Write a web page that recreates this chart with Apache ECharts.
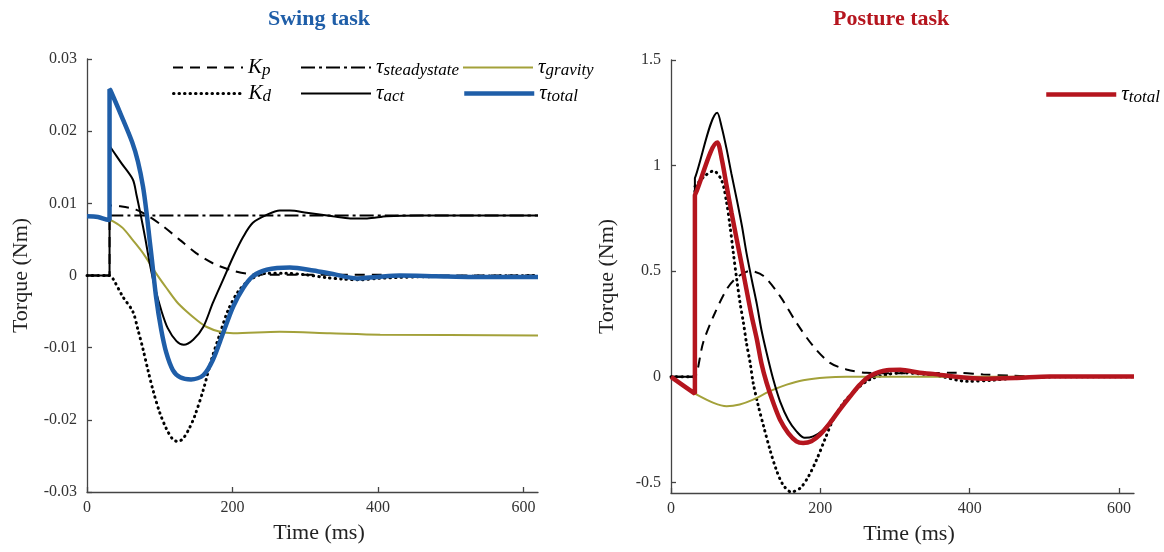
<!DOCTYPE html>
<html><head><meta charset="utf-8">
<script src="https://cdn.jsdelivr.net/npm/echarts@6/dist/echarts.min.js"></script>
<style>html,body{margin:0;padding:0;background:#fff}#c{width:1164px;height:552px}</style>
</head><body><div id="c"></div>
<script>
// ---------- Swing task (left) ----------
const swingKpT = [0, 30, 31, 31, 32, 45, 68, 85, 105, 128, 150, 173, 196, 224, 265, 400, 450, 620];
const swingKpV = [0, 0, 0, 0.0097, 0.0097, 0.0096, 0.0091, 0.0082, 0.0068, 0.0049, 0.0031, 0.0017, 0.0008, 0.0002, 0.0001, 0.0001, 0, 0];

const swingKdT = [0, 30, 31, 36, 49, 63, 70, 77, 84, 91, 100, 109, 118, 125, 132, 140, 148, 160, 171, 183, 194, 208, 224, 247, 274, 300, 330, 352, 375, 400, 450, 520, 620];
const swingKdV = [0, 0, 0, -0.0005, -0.0029, -0.0050, -0.0075, -0.0102, -0.0132, -0.0160, -0.0190, -0.0212, -0.0227, -0.0230, -0.0226, -0.0213, -0.0195, -0.0158, -0.0117, -0.0080, -0.0048, -0.0022, -0.0006, 0.0003, 0.0003, 0.0001, -0.0003, -0.0005, -0.0006, -0.0004, -0.0002, -0.0001, 0];

const swingSteadyT = [31, 620];
const swingSteadyV = [0.0083, 0.0083];

const swingActT = [0, 30, 31, 31, 32, 47, 63, 68, 74, 80, 86, 93, 102, 111, 123, 133, 146, 160, 173, 187, 201, 215, 228, 247, 265, 279, 302, 338, 362, 385, 412, 460, 620];
const swingActV = [0, 0, 0, 0.0179, 0.0178, 0.0156, 0.0133, 0.0112, 0.0083, 0.0052, 0.0018, -0.0015, -0.0048, -0.0073, -0.0091, -0.0096, -0.0089, -0.0071, -0.0038, -0.0006, 0.0026, 0.0054, 0.0073, 0.0084, 0.0090, 0.0090, 0.0087, 0.0082, 0.0079, 0.0079, 0.0082, 0.0083, 0.0083];

const swingGravT = [31, 36, 49, 63, 77, 95, 109, 123, 137, 150, 164, 183, 201, 265, 334, 403, 620];
const swingGravV = [0.0077, 0.0075, 0.0066, 0.0049, 0.0031, 0.0003, -0.0017, -0.0036, -0.0050, -0.0061, -0.0071, -0.0078, -0.0080, -0.0078, -0.0080, -0.0082, -0.0083];

const swingTotalT = [0, 15, 30, 31, 31, 32, 47, 62, 70, 77, 82, 86, 89, 95, 102, 109, 118, 128, 143, 160, 173, 187, 201, 215, 228, 247, 279, 311, 338, 371, 398, 430, 480, 530, 575, 620];
const swingTotalV = [0.0082, 0.0081, 0.0077, 0.0077, 0.0258, 0.0257, 0.0222, 0.0185, 0.0158, 0.0123, 0.0086, 0.0050, 0.0024, -0.0030, -0.0075, -0.0107, -0.0131, -0.0141, -0.0144, -0.0138, -0.0117, -0.0080, -0.0043, -0.0017, -0.0001, 0.0008, 0.0011, 0.0007, 0.0002, -0.0004, -0.0002, 0.0000, -0.0001, -0.0002, -0.0002, -0.0002];

// ---------- Posture task (right) ----------
const postKpT = [0, 31, 32, 43, 57, 74.5, 88, 106, 124, 146, 168, 190.5, 213, 235, 262, 298, 382, 418, 458, 507, 620];
const postKpV = [0, 0, 0, 0.161, 0.288, 0.414, 0.470, 0.501, 0.477, 0.382, 0.256, 0.145, 0.066, 0.035, 0.019, 0.017, 0.019, 0.011, 0.005, 0, 0];

const postKdT = [0, 31, 32, 32, 33, 45, 57, 68, 74.5, 79, 83.4, 88, 92.4, 97, 101, 106, 110, 117, 124, 132.5, 141, 150, 161, 173, 184, 195, 206, 217, 231, 248, 266, 289, 311, 340, 360, 396, 431, 463, 520, 620];
const postKdV = [0, 0, 0, 0.90, 0.905, 0.95, 0.975, 0.928, 0.825, 0.714, 0.588, 0.462, 0.351, 0.256, 0.161, 0.066, -0.028, -0.139, -0.234, -0.345, -0.440, -0.511, -0.545, -0.527, -0.472, -0.392, -0.297, -0.203, -0.123, -0.060, -0.013, 0.011, 0.019, 0.012, 0.003, -0.021, -0.016, -0.005, 0, 0];

const postActT = [0, 31, 32, 32, 33, 62, 68, 74.5, 81, 88, 95, 101, 108, 115, 121, 128, 137, 146, 157, 168, 179, 190.5, 204, 217, 231, 244, 257, 271, 289, 311, 333, 382, 418, 463, 507, 620];
const postActV = [0, 0, 0, 0.94, 0.95, 1.25, 1.181, 1.078, 0.960, 0.841, 0.714, 0.588, 0.462, 0.343, 0.224, 0.114, -0.013, -0.116, -0.203, -0.258, -0.289, -0.282, -0.250, -0.195, -0.131, -0.076, -0.028, 0.003, 0.028, 0.032, 0.019, 0, -0.009, -0.005, 0.002, 0.002];

const postGravT = [32, 57, 74.5, 92, 110, 132.5, 155, 177, 208, 235, 620];
const postGravV = [-0.079, -0.123, -0.139, -0.131, -0.108, -0.068, -0.037, -0.016, -0.003, 0, 0];

const postTotalT = [0, 31, 32, 32, 33, 62, 68, 74.5, 81, 88, 95, 101, 108, 115, 121, 128, 137, 146, 157, 168, 177, 188, 199.5, 213, 226, 240, 253, 266, 289, 307, 333, 351, 382, 418, 463, 507, 560, 620];
const postTotalV = [0, -0.077, -0.079, 0.86, 0.868, 1.11, 1.03, 0.904, 0.778, 0.651, 0.525, 0.414, 0.288, 0.177, 0.066, -0.028, -0.123, -0.203, -0.266, -0.305, -0.313, -0.305, -0.274, -0.218, -0.155, -0.092, -0.037, 0.003, 0.031, 0.033, 0.019, 0.014, 0, -0.009, -0.005, 0.002, 0.002, 0.002];

// ---------- axes ticks / labels ----------
const timeTicks = [0, 200, 400, 600];
const swingYTicks = [-0.03, -0.02, -0.01, 0, 0.01, 0.02, 0.03];
const swingYLabels = ['-0.03', '-0.02', '-0.01', '0', '0.01', '0.02', '0.03'];
const postYTicks = [-0.5, 0, 0.5, 1, 1.5];
const postYLabels = ['-0.5', '0', '0.5', '1', '1.5'];
const titles = ['Swing task', 'Posture task'];
const legendLabels = {
  Kp: '{m|K}{s|p}', Kd: '{m|K}{s|d}', tss: '{m|τ}{s|steadystate}',
  tact: '{m|τ}{s|act}', tgrav: '{m|τ}{s|gravity}', ttotal: '{m|τ}{s|total}', ttotal_r: '{m|τ}{s|total}'
};

const FONT = "'Liberation Serif','Times New Roman',serif";
const BLUE = '#1f5ea8', RED = '#b5151e', OLIVE = '#a3a13a';
const zip = (t, v) => t.map((x, i) => [x, v[i]]);

const styles = {
  Kp: { color: '#000', width: 2, type: [10, 7] },
  Kd: { color: '#000', width: 3, type: [0.5, 5], cap: 'round' },
  tss: { color: '#000', width: 2, type: [14, 4, 3, 4] },
  tact: { color: '#000', width: 2, type: 'solid' },
  tgrav: { color: OLIVE, width: 2, type: 'solid' },
  ttotal: { color: BLUE, width: 4.5, type: 'solid' },
  ttotal_r: { color: RED, width: 4.5, type: 'solid' }
};

function ser(name, styleKey, t, v, idx) {
  const s = styles[styleKey];
  return {
    name, type: 'line', xAxisIndex: idx, yAxisIndex: idx, data: zip(t, v),
    symbol: 'none', smooth: 0.3, silent: true, animation: false,
    lineStyle: { color: s.color, width: s.width, type: s.type, cap: s.cap || 'butt' },
    itemStyle: { color: s.color }
  };
}

const series = [
  ser('Kp', 'Kp', swingKpT, swingKpV, 0),
  ser('Kd', 'Kd', swingKdT, swingKdV, 0),
  ser('tss', 'tss', swingSteadyT, swingSteadyV, 0),
  ser('tgrav', 'tgrav', swingGravT, swingGravV, 0),
  ser('tact', 'tact', swingActT, swingActV, 0),
  ser('ttotal', 'ttotal', swingTotalT, swingTotalV, 0),
  ser('Kp_r', 'Kp', postKpT, postKpV, 1),
  ser('Kd_r', 'Kd', postKdT, postKdV, 1),
  ser('tgrav_r', 'tgrav', postGravT, postGravV, 1),
  ser('tact_r', 'tact', postActT, postActV, 1),
  ser('ttotal_r', 'ttotal_r', postTotalT, postTotalV, 1)
];

const rich = {
  m: { fontFamily: FONT, fontStyle: 'italic', fontSize: 21, lineHeight: 24, color: '#000', verticalAlign: 'middle' },
  s: { fontFamily: FONT, fontStyle: 'italic', fontSize: 17, lineHeight: 15, color: '#000', verticalAlign: 'bottom' }
};
function leg(name, left, top) {
  const s = styles[name];
  return {
    data: [name], left, top, padding: 0, itemWidth: 70, itemHeight: 14, itemGap: 0,
    selectedMode: false, formatter: n => legendLabels[n],
    textStyle: { rich },
    itemStyle: { opacity: 0, borderWidth: 0 },
    lineStyle: { width: s.width, type: s.type, color: s.color, cap: s.cap || 'butt' }
  };
}
const legends = [
  leg('Kp', 172, 57), leg('tss', 300, 57), leg('tgrav', 462, 57),
  leg('Kd', 172, 83), leg('tact', 300, 83), leg('ttotal', 462, 83),
  leg('ttotal_r', 1044, 84)
];

const AX = '#444';
function xAx(idx) {
  return {
    type: 'value', gridIndex: idx, min: 0, max: 620,
    name: 'Time (ms)', nameLocation: 'middle', nameGap: 30,
    nameTextStyle: { fontFamily: FONT, fontSize: 22, color: '#222', padding: [0, 0, 0, 13] },
    axisLine: { onZero: false, lineStyle: { color: AX, width: 1.3 } },
    axisTick: { inside: true, length: 5, customValues: timeTicks, lineStyle: { color: AX, width: 1.3 } },
    axisLabel: { customValues: timeTicks, fontFamily: FONT, fontSize: 16, color: '#333', margin: 8 },
    splitLine: { show: false }
  };
}
function yAx(idx, min, max, ticks, labels, gap) {
  return {
    type: 'value', gridIndex: idx, min, max,
    name: 'Torque (Nm)', nameLocation: 'middle', nameGap: gap, nameRotate: 90,
    nameTextStyle: { fontFamily: FONT, fontSize: 22, color: '#222' },
    axisLine: { show: true, onZero: false, lineStyle: { color: AX, width: 1.3 } },
    axisTick: { show: true, inside: true, length: 5, customValues: ticks, lineStyle: { color: AX, width: 1.3 } },
    axisLabel: {
      customValues: ticks, fontFamily: FONT, fontSize: 16, color: '#333', margin: 10,
      formatter: v => { const i = ticks.findIndex(t => Math.abs(t - v) < 1e-9); return i >= 0 ? labels[i] : ''; }
    },
    splitLine: { show: false }
  };
}

const chart = echarts.init(document.getElementById('c'), null, { renderer: 'canvas' });
chart.setOption({
  backgroundColor: '#fff',
  animation: false,
  title: [
    { text: titles[0], left: 263, top: 3, textStyle: { fontFamily: FONT, fontWeight: 'bold', fontSize: 22, color: BLUE } },
    { text: titles[1], left: 828, top: 3, textStyle: { fontFamily: FONT, fontWeight: 'bold', fontSize: 22, color: RED } }
  ],
  legend: legends,
  grid: [
    { left: 87, top: 59, width: 451, height: 433 },
    { left: 671, top: 60, width: 463, height: 433 }
  ],
  xAxis: [xAx(0), xAx(1)],
  yAxis: [
    yAx(0, -0.03, 0.03, swingYTicks, swingYLabels, 55),
    yAx(1, -0.55, 1.5, postYTicks, postYLabels, 53)
  ],
  series
});
</script></body></html>
